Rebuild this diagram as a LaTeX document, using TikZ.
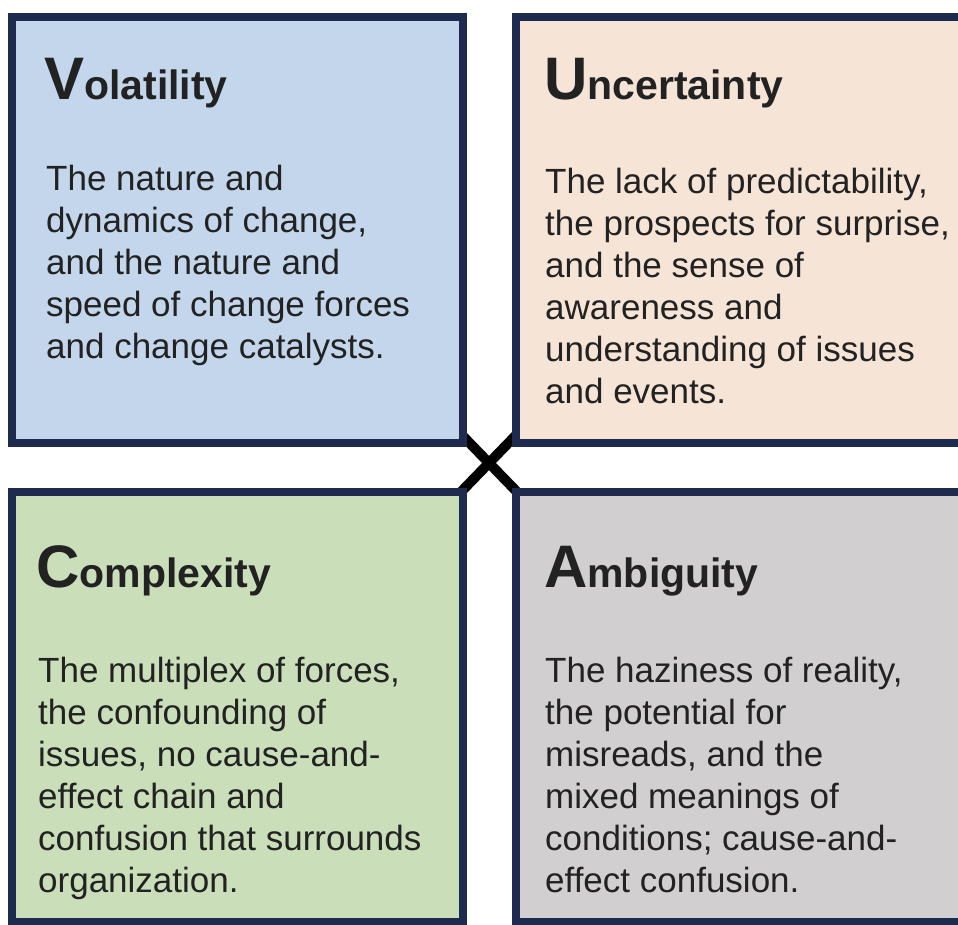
\documentclass[tikz,border=0pt]{standalone}
\usepackage{fontspec}
\setmainfont{Liberation Sans}
\usepackage{tikz}
\usetikzlibrary{shapes.misc,positioning}

\definecolor{framecol}{HTML}{1E2A4E}
\definecolor{textcol}{HTML}{222222}
\definecolor{volfill}{HTML}{C3D6EB}
\definecolor{uncfill}{HTML}{F6E4D7}
\definecolor{comfill}{HTML}{CADFB9}
\definecolor{ambfill}{HTML}{D1CFD0}

\newcommand{\bigfirst}[2]{{\fontsize{60pt}{60pt}\selectfont #1}{\fontsize{41pt}{41pt}\selectfont #2}}

\begin{document}
\begin{tikzpicture}[x=1pt, y=-1pt]
    \tikzset{
      quadnode/.style={rectangle,draw=framecol,line width=8pt,inner sep=0pt,minimum width=451pt},
      titlenode/.style={anchor=base west,inner sep=0pt,text=textcol,font=\bfseries},
      bodynode/.style={anchor=base west,inner sep=0pt,text=textcol,align=left,font=\fontsize{35pt}{42pt}\selectfont},
      crossnode/.style={cross out,draw=black,line width=10pt,inner sep=0pt,minimum width=52pt,minimum height=54pt}
    }
    \useasboundingbox (0,0) rectangle (958,924);
    \clip (0,0) rectangle (958,924);
    \fill[white] (0,0) rectangle (958,924);

    \node[crossnode](cross) at (489,463) {};

    \node[quadnode,fill=volfill,minimum height=426pt](vol) at (237.5,230) {};
    \node[quadnode,fill=uncfill,minimum height=426pt](unc) at (741.5,230) {};
    \node[quadnode,fill=comfill,minimum height=430pt](com) at (237.5,707) {};
    \node[quadnode,fill=ambfill,minimum height=430pt](amb) at (741.5,707) {};

    \node[titlenode](voltitle) at (44,99) {\bigfirst{V}{olatility}};
    \node[titlenode](unctitle) at (544,99) {\bigfirst{U}{ncertainty}};
    \node[titlenode](comtitle) at (36,587) {\bigfirst{C}{omplexity}};
    \node[titlenode](ambtitle) at (544,587) {\bigfirst{A}{mbiguity}};

    \node[bodynode](voltext) at (46,358) {The nature and\\dynamics of change,\\and the nature and\\speed of change forces\\and change catalysts.};
    \node[bodynode](unctext) at (545,403) {The lack of predictability,\\the prospects for surprise,\\and the sense of\\awareness and\\understanding of issues\\and events.};
    \node[bodynode](comtext) at (38,892) {The multiplex of forces,\\the confounding of\\issues, no cause-and-\\effect chain and\\confusion that surrounds\\organization.};
    \node[bodynode](ambtext) at (545,892) {The haziness of reality,\\the potential for\\misreads, and the\\mixed meanings of\\conditions; cause-and-\\effect confusion.};
\end{tikzpicture}
\end{document}
